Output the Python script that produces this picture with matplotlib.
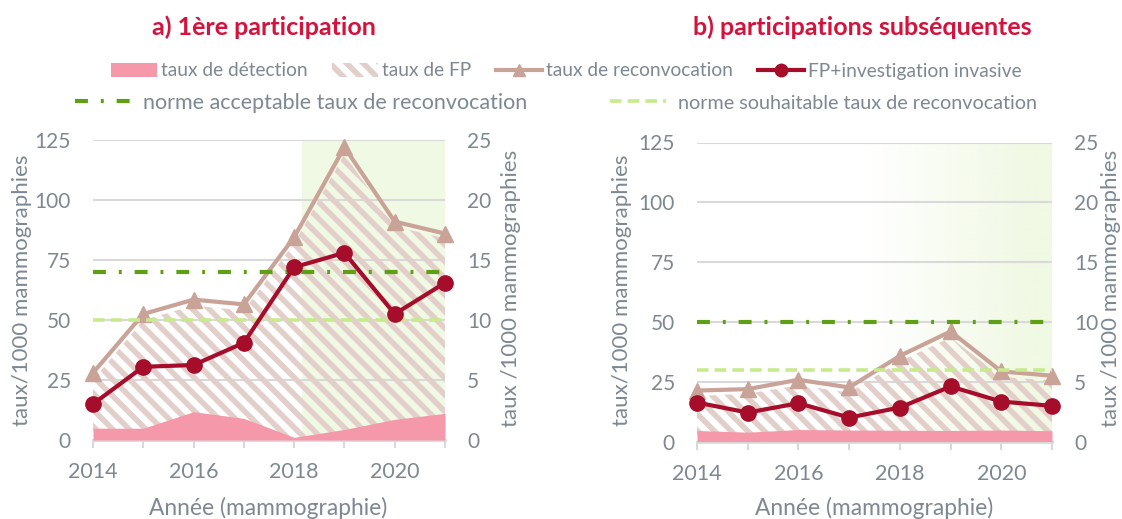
import numpy as np
import matplotlib
matplotlib.use('Agg')
import matplotlib.pyplot as plt
from matplotlib.patches import Patch
from matplotlib.lines import Line2D

plt.rcParams['font.family'] = ['Lato', 'DejaVu Sans']
plt.rcParams['hatch.linewidth'] = 4.0

# data
annees = [2014, 2015, 2016, 2017, 2018, 2019, 2020, 2021]

# a) 1ère participation (axe gauche, taux/1000)
detect_a = [4.9, 4.9, 11.8, 9.0, 1.1, 4.4, 8.6, 11.1]
fp_a = [25, 50, 56, 54, 82, 119, 89, 84]
reconv_a = [28, 52.5, 58.5, 56.5, 84.5, 122, 91, 86]
# axe droit
fp_invasif_a = [3.0, 6.1, 6.25, 8.1, 14.4, 15.6, 10.5, 13.1]

# b) participations subséquentes
detect_b = [4.6, 3.9, 5.0, 4.8, 4.7, 4.6, 4.8, 4.5]
fp_b = [19, 20, 23.5, 20.5, 33.5, 43.5, 27, 25.5]
reconv_b = [21.3, 21.9, 25.8, 22.6, 35.8, 46, 29.3, 27.5]
fp_invasif_b = [3.26, 2.42, 3.2, 2.0, 2.84, 4.6, 3.34, 2.98]

norme_acceptable = [70, 50]
norme_souhaitable = [50, 30]

titres = ['a) 1ère participation', 'b) participations subséquentes']
legende_1 = ['taux de détection', 'taux de FP', 'taux de reconvocation',
             'FP+investigation invasive']
legende_2 = ['norme acceptable taux de reconvocation',
             'norme souhaitable taux de reconvocation']

# colours
ROSE = '#f598a9'
HACHURE = '#e3cfc9'
BEIGE = '#c9a398'
ROUGE = '#a50d2b'
VERT_F = '#5f9f14'
VERT_C = '#c6ea8c'
VERT_FOND = '#f0f9e4'
GRIS = '#7d8892'
GRILLE = '#d9d9d9'
TITRE = '#d4123c'

W, H = 1122, 519
fig = plt.figure(figsize=(W / 100, H / 100), dpi=100)

DASHDOT = (0, (3.1, 3.1, 0.7, 3.1))
DASH = (0, (3.2, 1.7))


def panel(rect, detect, fp, reconv, fp_inv, acc, souh, fond):
    ax = fig.add_axes(rect)
    x = np.array(annees)
    ax.set_xlim(annees[0], annees[-1])
    ax.set_ylim(0, 125)
    ax.set_axisbelow(True)

    if fond == 'plein':
        ax.axvspan(2018.16, annees[-1], color=VERT_FOND, lw=0, zorder=0)
    else:
        xs = np.linspace(annees[0], annees[-1], 400)
        a = np.clip((xs - 2017.4) / (2020.6 - 2017.4), 0, 1)
        rgba = np.zeros((1, len(xs), 4))
        rgba[..., :3] = matplotlib.colors.to_rgb(VERT_FOND)
        rgba[..., 3] = a
        ax.imshow(rgba, extent=(annees[0], annees[-1], 0, 125),
                  aspect='auto', zorder=0, interpolation='bilinear')

    ax.yaxis.grid(True, color=GRILLE, lw=1.5)
    ax.fill_between(x, 0, fp, facecolor='none', edgecolor=HACHURE,
                    hatch='\\\\', linewidth=0, zorder=2)
    ax.fill_between(x, 0, detect, color=ROSE, lw=0, zorder=3)
    ax.plot(x, reconv, color=BEIGE, lw=3, marker='^', ms=11,
            zorder=4, clip_on=False)
    ax.hlines(acc, annees[0], annees[-1], color=VERT_F, lw=3,
              linestyles=DASHDOT, zorder=5)
    ax.hlines(souh, annees[0], annees[-1], color=VERT_C, lw=2.6,
              linestyles=DASH, zorder=5)

    for s in ['top', 'left', 'right']:
        ax.spines[s].set_visible(False)
    ax.spines['bottom'].set_color(GRILLE)
    ax.spines['bottom'].set_linewidth(2)
    ax.set_yticks(range(0, 126, 25))
    ax.set_xticks(annees)
    ax.set_xticklabels([str(a) if a % 2 == 0 else '' for a in annees])
    ax.tick_params(axis='y', length=0, pad=16, labelsize=15, labelcolor=GRIS)
    ax.tick_params(axis='x', length=6, width=1.5, color=GRILLE, pad=10,
                   labelsize=15.5, labelcolor=GRIS)

    ax2 = ax.twinx()
    ax2.set_ylim(0, 25)
    ax2.set_yticks(range(0, 26, 5))
    ax2.plot(x, fp_inv, color=ROUGE, lw=3, marker='o', ms=11,
             zorder=6, clip_on=False)
    for s in ax2.spines.values():
        s.set_visible(False)
    ax2.tick_params(axis='y', length=0, pad=16, labelsize=15, labelcolor=GRIS)
    return ax


panel([93 / W, 1 - 440 / H, 352 / W, 300 / H], detect_a, fp_a, reconv_a,
      fp_invasif_a, norme_acceptable[0], norme_souhaitable[0], 'plein')
panel([697 / W, 1 - 441.5 / H, 355 / W, 299 / H], detect_b, fp_b, reconv_b,
      fp_invasif_b, norme_acceptable[1], norme_souhaitable[1], 'degrade')

# titles and axis labels
fig.text(264 / W, 1 - 27 / H, titres[0], ha='center', va='center',
         fontsize=18, fontweight='bold', color=TITRE)
fig.text(862 / W, 1 - 27 / H, titres[1], ha='center', va='center',
         fontsize=18, fontweight='bold', color=TITRE)
for xl in [22, 622]:
    fig.text(xl / W, 1 - 290 / H, 'taux/1000 mammographies', rotation=90,
             ha='center', va='center', fontsize=16, color=GRIS)
for xr in [511, 1111]:
    fig.text(xr / W, 1 - 288 / H, 'taux /1000 mammographies', rotation=90,
             ha='center', va='center', fontsize=16, color=GRIS)
for xc in [268, 874]:
    fig.text(xc / W, 1 - 508 / H, 'Année (mammographie)', ha='center',
             va='center', fontsize=16.4, color=GRIS)

# legends
h1 = [Patch(facecolor=ROSE, edgecolor='none'),
      Patch(facecolor='none', edgecolor=HACHURE, hatch='\\\\', linewidth=0),
      Line2D([], [], color=BEIGE, lw=3, marker='^', ms=9),
      Line2D([], [], color=ROUGE, lw=3, marker='o', ms=9)]
fig.legend(h1, legende_1, loc='center', bbox_to_anchor=(566 / W, 1 - 71 / H),
           ncol=4, frameon=False, fontsize=13.8, handlelength=2.4,
           handletextpad=0.2, columnspacing=1.3, labelcolor=GRIS)
h2 = [Line2D([], [], color=VERT_F, lw=3, linestyle=DASHDOT),
      Line2D([], [], color=VERT_C, lw=2.6, linestyle=DASH)]
leg2 = fig.legend(h2, legende_2, loc='center', bbox_to_anchor=(556 / W, 1 - 103 / H),
                  ncol=2, frameon=False, fontsize=15.5, handlelength=2.6,
                  handletextpad=0.6, columnspacing=3.8, labelcolor=GRIS)
leg2.get_texts()[1].set_fontsize(14.2)

fig.savefig('out.png', dpi=100)
